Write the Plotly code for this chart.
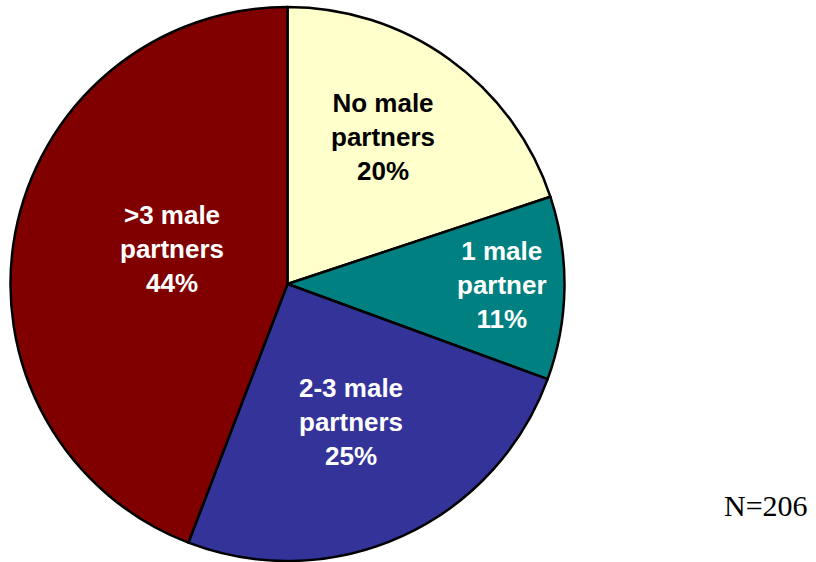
import plotly.graph_objects as go

# Data (N = 206 respondents)
labels = ["No male partners", "1 male partner", "2-3 male partners", ">3 male partners"]
label_lines = ["No male<br>partners", "1 male<br>partner", "2-3 male<br>partners", ">3 male<br>partners"]
counts = [41, 22, 52, 91]
total_label = "N=206"

colors = ["#FFFFCC", "#008080", "#333399", "#800000"]
text_colors = ["black", "white", "white", "white"]

W, H = 816, 562
cx, cy, r = 287.5, 284, 277

fig = go.Figure(go.Pie(
    labels=labels,
    values=counts,
    sort=False,
    direction="clockwise",
    rotation=0,
    marker=dict(colors=colors, line=dict(color="black", width=2.5)),
    textinfo="none",
    hoverinfo="label+percent",
    showlegend=False,
    domain=dict(x=[(cx - r) / W, (cx + r) / W], y=[(H - cy - r) / H, (H - cy + r) / H]),
))

# label anchor positions in pixels (layout only)
label_pos = [(383, 137), (502, 285), (351, 422), (172, 249)]
total = sum(counts)
annotations = []
for txt, c, col, (px, py) in zip(label_lines, counts, text_colors, label_pos):
    pct = round(100 * c / total)
    annotations.append(dict(
        text=f"<b>{txt}<br>{pct}%</b>",
        x=px / W, y=1 - py / H, xref="paper", yref="paper",
        xanchor="center", yanchor="middle", showarrow=False,
        font=dict(family="Liberation Sans, Arial, sans-serif", size=26, color=col),
        align="center",
    ))
annotations.append(dict(
    text=total_label, x=766 / W, y=1 - 505 / H, xref="paper", yref="paper",
    xanchor="center", yanchor="middle", showarrow=False,
    font=dict(family="Liberation Serif, Times New Roman, serif", size=30, color="black"),
))

fig.update_layout(
    width=W, height=H,
    margin=dict(l=0, r=0, t=0, b=0),
    paper_bgcolor="white", plot_bgcolor="white",
    annotations=annotations,
)

fig.write_html(
    "out.html",
    config={"displayModeBar": False},
    post_script="document.body.style.margin='0';document.body.style.overflow='hidden';",
)
